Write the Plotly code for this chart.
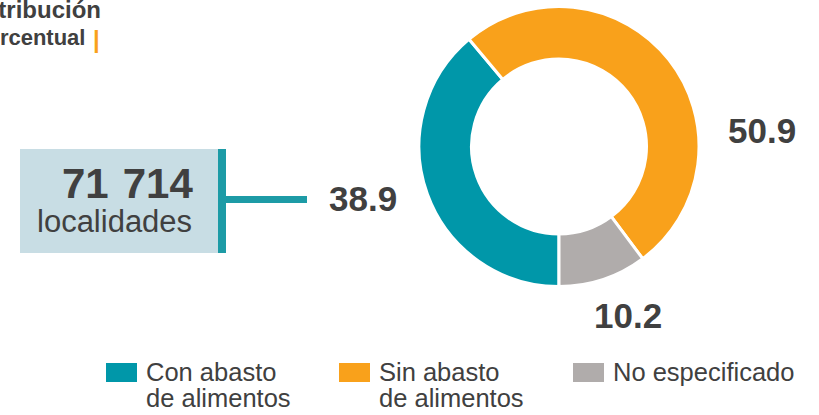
import plotly.graph_objects as go

W, H = 819, 415

# data
categories = ["Con abasto\nde alimentos", "Sin abasto\nde alimentos", "No especificado"]
values = [38.9, 50.9, 10.2]
colors = ["#0097a9", "#f9a11b", "#b0acab"]
total_localidades = "71\u2004714"
total_label = "localidades"

FONT = "Liberation Sans, Arial, sans-serif"
DARK = "#404040"


def px_x(v):
    return v / W


def px_y(v):
    return 1 - v / H


fig = go.Figure(go.Pie(
    labels=[c.replace("\n", " ") for c in categories],
    values=values,
    marker=dict(colors=colors, line=dict(color="white", width=3)),
    hole=0.625,
    sort=False,
    direction="clockwise",
    rotation=180,
    textinfo="none",
    hoverinfo="label+value",
    showlegend=False,
    domain=dict(x=[px_x(419), px_x(699)], y=[px_y(287), px_y(6)]),
))

annotations = []
shapes = []

# value labels around the donut
label_pos = [(363, 199), (762, 130), (628, 315)]
for v, (lx, ly) in zip(values, label_pos):
    annotations.append(dict(
        x=px_x(lx), y=px_y(ly), xref="paper", yref="paper",
        text=f"<b>{v:.1f}</b>", showarrow=False,
        xanchor="center", yanchor="middle",
        font=dict(family=FONT, size=35, color=DARK),
    ))

# title (cut off at the left edge, as in the source)
annotations += [
    dict(x=px_x(103), y=px_y(10), xref="paper", yref="paper",
         text="<b>Distribución</b>", showarrow=False, xanchor="right", yanchor="middle",
         font=dict(family=FONT, size=24, color=DARK)),
    dict(x=px_x(87), y=px_y(38), xref="paper", yref="paper",
         text="<b>porcentual</b>", showarrow=False, xanchor="right", yanchor="middle",
         font=dict(family=FONT, size=22, color=DARK)),
    dict(x=px_x(96), y=px_y(40), xref="paper", yref="paper",
         text="<b>|</b>", showarrow=False, xanchor="center", yanchor="middle",
         font=dict(family=FONT, size=24, color="#f9a11b")),
]

# total box
shapes += [
    dict(type="rect", xref="paper", yref="paper",
         x0=px_x(20), x1=px_x(218), y0=px_y(253), y1=px_y(149),
         fillcolor="#c8dde4", line_width=0, layer="below"),
    dict(type="rect", xref="paper", yref="paper",
         x0=px_x(218), x1=px_x(226), y0=px_y(253), y1=px_y(149),
         fillcolor="#1d9ba6", line_width=0),
    dict(type="line", xref="paper", yref="paper",
         x0=px_x(226), x1=px_x(307), y0=px_y(199.5), y1=px_y(199.5),
         line=dict(color="#1d9ba6", width=7)),
]
annotations += [
    dict(x=px_x(195), y=px_y(183), xref="paper", yref="paper",
         text=f"<b>{total_localidades}</b>", showarrow=False, xanchor="right", yanchor="middle",
         font=dict(family=FONT, size=42, color=DARK)),
    dict(x=px_x(194), y=px_y(221), xref="paper", yref="paper",
         text=total_label, showarrow=False, xanchor="right", yanchor="middle",
         font=dict(family=FONT, size=31, color=DARK)),
]

# legend
legend_x = [106, 339, 573]
for cat, col, sx in zip(categories, colors, legend_x):
    shapes.append(dict(type="rect", xref="paper", yref="paper",
                       x0=px_x(sx), x1=px_x(sx + 31), y0=px_y(382), y1=px_y(363),
                       fillcolor=col, line_width=0))
    for i, line in enumerate(cat.split("\n")):
        annotations.append(dict(
            x=px_x(sx + 38), y=px_y(372 + 26 * i), xref="paper", yref="paper",
            text=line, showarrow=False, xanchor="left", yanchor="middle",
            font=dict(family=FONT, size=25.5, color=DARK),
        ))

fig.update_layout(
    width=W, height=H,
    margin=dict(l=0, r=0, t=0, b=0),
    paper_bgcolor="white", plot_bgcolor="white",
    annotations=annotations, shapes=shapes,
)

# page body has a default 8px margin; drop it so the figure fills the window
fig.write_html("out.html", config={"displayModeBar": False},
               post_script="document.body.style.margin='0';")
